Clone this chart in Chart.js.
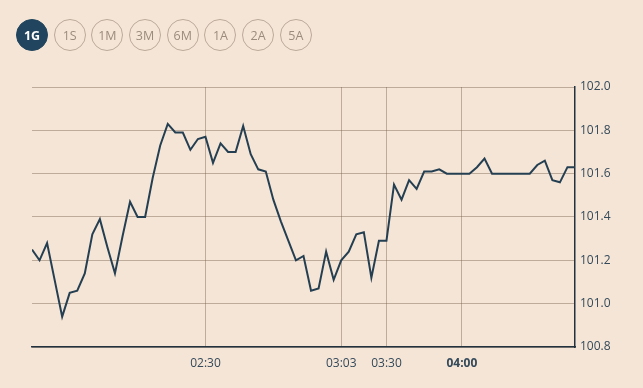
<!DOCTYPE html>
<html>
<head>
<meta charset="utf-8">
<script src="https://cdn.jsdelivr.net/npm/chart.js@4.4.1/dist/chart.umd.min.js"></script>
<style>
    html, body { margin: 0; padding: 0; background: #f5e5d6; }
    body { width: 643px; height: 388px; position: relative; overflow: hidden; font-family: "Open Sans", sans-serif; }
    #chartWrap { position: absolute; left: 0; top: 0; width: 643px; height: 388px; }
    .ranges { position: absolute; left: 16px; top: 19px; display: flex; gap: 5.7px; z-index: 2; }
    .ranges span {
        width: 30px; height: 30px; border-radius: 50%;
        border: 1px solid #bba999; color: #9b8b7d;
        font-size: 12.5px; display: flex; align-items: center; justify-content: center;
    }
    .ranges span.active { background: #21455e; border-color: #21455e; color: #fff; font-weight: 700; }
</style>
</head>
<body>
<div class="ranges">
    <span class="active">1G</span><span>1S</span><span>1M</span><span>3M</span><span>6M</span><span>1A</span><span>2A</span><span>5A</span>
</div>
<div id="chartWrap"><canvas id="priceChart" width="643" height="388"></canvas></div>
<script>
// valori (un punto ogni intervallo)
const prices = [
    101.25, 101.20, 101.28, 101.11, 100.94, 101.05, 101.06, 101.14, 101.32, 101.39,
    101.26, 101.14, 101.31, 101.47, 101.40, 101.40, 101.58, 101.73, 101.83, 101.79,
    101.79, 101.71, 101.76, 101.77, 101.65, 101.74, 101.70, 101.70, 101.82, 101.69,
    101.62, 101.61, 101.48, 101.38, 101.29, 101.20, 101.22, 101.06, 101.07, 101.24,
    101.11, 101.20, 101.24, 101.32, 101.33, 101.12, 101.29, 101.29, 101.55, 101.48,
    101.57, 101.53, 101.61, 101.61, 101.62, 101.60, 101.60, 101.60, 101.60, 101.63,
    101.67, 101.60, 101.60, 101.60, 101.60, 101.60, 101.60, 101.64, 101.66, 101.57,
    101.56, 101.63, 101.63
];
const timeTickIndex = [23, 41, 47, 57];
const timeTickLabels = ['02:30', '03:03', '03:30', '04:00'];
const boldTick = 57;
const yTicks = [100.8, 101.0, 101.2, 101.4, 101.6, 101.8, 102.0];

document.addEventListener('DOMContentLoaded', () => {
    initPriceChart();
});

function initPriceChart() {
    const ctx = document.getElementById('priceChart').getContext('2d');
    const points = prices.map((v, i) => ({ x: i, y: v }));
    const gridColor = 'rgba(125, 100, 80, 0.45)';
    const textColor = '#34495a';

    new Chart(ctx, {
        type: 'line',
        data: {
            datasets: [{
                data: points,
                borderColor: '#253f52',
                borderWidth: 2,
                pointRadius: 0,
                tension: 0,
                fill: false
            }]
        },
        options: {
            responsive: false,
            animation: false,
            layout: { padding: { left: 32, top: 87, right: 0, bottom: 0 } },
            plugins: { legend: { display: false }, tooltip: { enabled: false } },
            scales: {
                x: {
                    type: 'linear',
                    min: 0,
                    max: prices.length - 1,
                    afterBuildTicks: (s) => { s.ticks = timeTickIndex.map(v => ({ value: v })); },
                    afterFit: (s) => { s.height = 41; },
                    grid: { color: gridColor, drawTicks: false },
                    border: { color: '#22323f', width: 1.5 },
                    ticks: {
                        color: textColor,
                        padding: 9,
                        maxRotation: 0,
                        autoSkip: false,
                        font: (c) => ({
                            family: 'Open Sans',
                            size: 12,
                            weight: c.tick && c.tick.value === boldTick ? 'bold' : 'normal'
                        }),
                        callback: (v) => timeTickLabels[timeTickIndex.indexOf(v)] || ''
                    }
                },
                y: {
                    position: 'right',
                    min: 100.8,
                    max: 102.0,
                    afterBuildTicks: (s) => { s.ticks = yTicks.map(v => ({ value: v })); },
                    afterFit: (s) => { s.width = 68; },
                    grid: { color: gridColor, drawTicks: false },
                    border: { color: '#22323f', width: 1.5 },
                    ticks: {
                        color: textColor,
                        padding: 5,
                        font: { family: 'Open Sans', size: 12 },
                        callback: (v) => v.toFixed(1)
                    }
                }
            }
        }
    });
}
</script>
</body>
</html>
